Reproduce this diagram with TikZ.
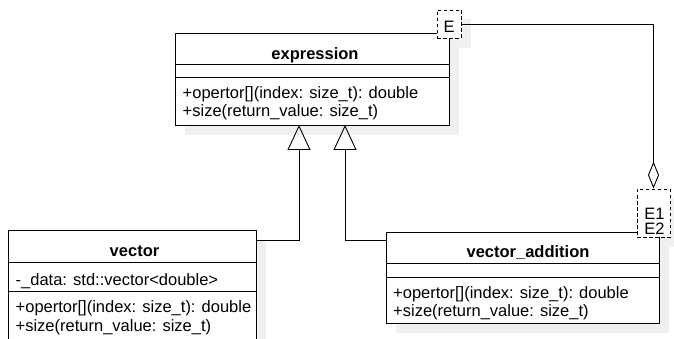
\documentclass[tikz,border=0pt]{standalone}
\usepackage{fontspec}
\setmainfont{Liberation Sans}
\usetikzlibrary{arrows.meta,backgrounds}
\definecolor{shadowc}{RGB}{240,240,240}
\tikzset{
  cls/.style={draw=black, fill=white, line width=0.9pt, inner sep=0pt, anchor=north west},
  tmpl/.style={draw=black, fill=white, line width=0.9pt, dash pattern=on 3.5pt off 2.5pt, inner sep=0pt},
  txt/.style={inner sep=0pt, font=\fontsize{16.5}{18.5}\selectfont},
  ttl/.style={txt, anchor=base, font=\fontsize{16.5}{18.5}\selectfont\bfseries},
  mem/.style={txt, anchor=base west},
  sep/.style={line width=0.9pt},
  conn/.style={line width=0.9pt, draw=black},
  inherit/.style={conn, -{Triangle[open, length=25pt, width=23pt]}},
  aggr/.style={conn, -{Diamond[open, length=27pt, width=11pt]}},
}
\begin{document}
\begin{tikzpicture}[x=1pt, y=-1pt]
\useasboundingbox (0,0) rectangle (674,339);
\clip (0,0) rectangle (674,339);

% ---- expression ----
\node[cls, minimum width=274pt, minimum height=92pt] (expr) at (175,33) {};
\draw[sep] (expr.west |- 0,64.5) -- (expr.east |- 0,64.5);
\draw[sep] (expr.west |- 0,77.5) -- (expr.east |- 0,77.5);
\node[ttl] (expr-t) at (315,59.5) {expression};
\node[mem] (expr-m1) at (182.5,99) {+opertor[](index: size\_t): double};
\node[mem] (expr-m2) at (182.5,117) {+size(return\_value: size\_t)};

% template E
\node[tmpl, minimum width=24pt, minimum height=28pt] (E) at (449,24) {};
\node[txt, anchor=base] (E-t) at (449,32.5) {E};

% ---- vector ----
\node[cls, minimum width=248pt, minimum height=120pt] (vec) at (8,230) {};
\draw[sep] (vec.west |- 0,262.5) -- (vec.east |- 0,262.5);
\draw[sep] (vec.west |- 0,291) -- (vec.east |- 0,291);
\node[ttl] (vec-t) at (134.5,256.5) {vector};
\node[mem] (vec-a1) at (15.5,285) {-\_data: std::vector<double>};
\node[mem] (vec-m1) at (15.5,312.5) {+opertor[](index: size\_t): double};
\node[mem] (vec-m2) at (15.5,331) {+size(return\_value: size\_t)};

% ---- vector_addition ----
\node[cls, minimum width=273pt, minimum height=91pt] (vadd) at (386,232) {};
\draw[sep] (vadd.west |- 0,263) -- (vadd.east |- 0,263);
\draw[sep] (vadd.west |- 0,277) -- (vadd.east |- 0,277);
\node[ttl] (vadd-t) at (528,257.5) {vector\_addition};
\node[mem] (vadd-m1) at (393,298.5) {+opertor[](index: size\_t): double};
\node[mem] (vadd-m2) at (393,316.5) {+size(return\_value: size\_t)};

% template E1 E2
\node[tmpl, minimum width=33pt, minimum height=48pt] (E12) at (653.5,213) {};
\node[txt, anchor=base] (E12-a) at (654.5,219) {E1};
\node[txt, anchor=base] (E12-b) at (654.5,234) {E2};

% ---- shadows ----
\begin{scope}[on background layer]
  \foreach \n in {expr,E,vec,vadd,E12}{
    \fill[shadowc] ([shift={(9.5pt,-9.5pt)}]\n.south west) rectangle ([shift={(9.5pt,-9.5pt)}]\n.north east);
  }
\end{scope}

% ---- connectors ----
\coordinate (inh1) at (299,125);
\coordinate (inh2) at (345,125);
\draw[inherit] ([yshift=-10pt]vec.north east) -| (inh1);
\draw[inherit] ([yshift=-8pt]vadd.north west) -| (inh2);
\draw[aggr] (E.east) -| (E12.north);
\end{tikzpicture}
\end{document}
